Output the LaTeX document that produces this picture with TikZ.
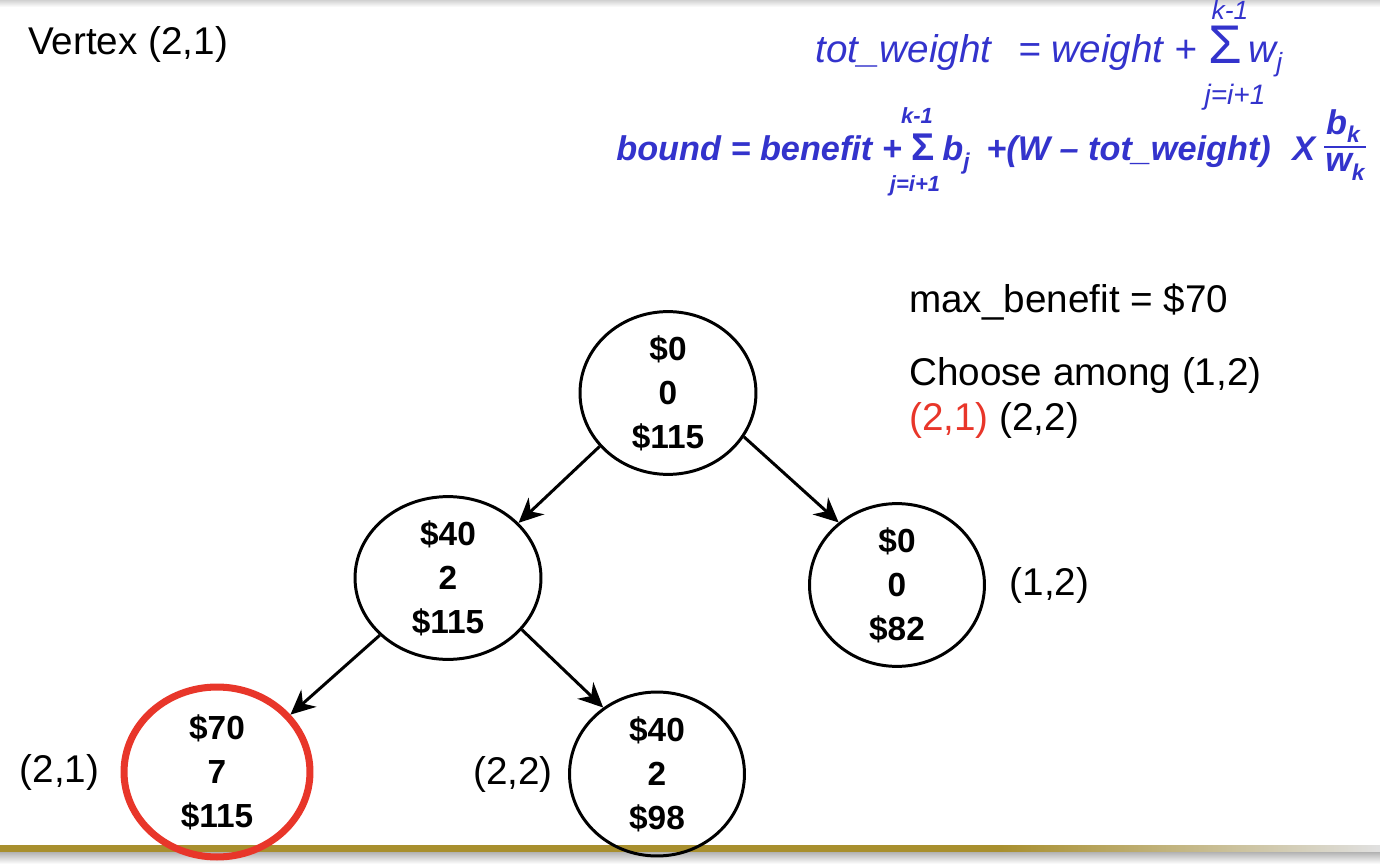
\documentclass[tikz,border=0pt]{standalone}
\usepackage{fontspec}
\setmainfont{Liberation Sans}
\usetikzlibrary{arrows.meta,positioning,shapes.geometric}
\definecolor{formula}{HTML}{3333CC}
\definecolor{pick}{HTML}{E8362A}
\definecolor{gold}{HTML}{A88F2E}
\newcommand\lowidx[2][13]{\raisebox{-5pt}{\fontsize{#1}{#1}\selectfont #2}}

\begin{document}
\begin{tikzpicture}[x=0.02cm,y=-0.02cm,
  vert/.style={ellipse,draw,line width=1.7pt,inner sep=0pt,align=center,font=\fontsize{19}{25}\selectfont\bfseries},
  lbl/.style={font=\fontsize{22}{25.5}\selectfont},
  link/.style={-{Stealth[length=14pt,width=13pt]},line width=1.7pt},
  fa/.style={formula,inner sep=0pt,font=\fontsize{22}{24}\selectfont\itshape},
  fb/.style={formula,inner sep=0pt,font=\fontsize{19.5}{22}\selectfont\bfseries\itshape}]
  \useasboundingbox (0,0) rectangle (1380,868);
  % slide frame
  \shade[top color=black!18,bottom color=white] (0,0) rectangle (1380,7);
  \fill[gold] (0,845) rectangle (1000,852);
  \shade[left color=gold,right color=black!12] (1000,845) rectangle (1380,852);
  \shade[top color=black!30,bottom color=white] (0,852) rectangle (1380,864);

  % formulas
  \node[fa,anchor=base west] (tw) at (815,63) {tot\_weight};
  \node[fa,anchor=base west] (eq1) at (1018,63) {= weight +};
  \node[fa,font=\fontsize{31}{31}\selectfont,anchor=base west] (s1) at (1208,64) {\smash{Σ}};
  \node[fa,font=\fontsize{15}{15}\selectfont\itshape] (k1) at (1230,10) {k-1};
  \node[fa,font=\fontsize{16}{16}\selectfont\itshape] (j1) at (1235,97) {j=i+1};
  \node[fa,anchor=base west] (wj) at (1248,63) {w\lowidx[15]{j}};
  \node[fb,anchor=base west] (bd) at (616,161) {bound = benefit +};
  \node[fb,font=\fontsize{22}{22}\selectfont\bfseries,anchor=base west] (s2) at (911,161) {Σ};
  \node[fb,font=\fontsize{12.5}{12.5}\selectfont\bfseries\itshape] (k2) at (917,116) {k-1};
  \node[fb,font=\fontsize{12.5}{12.5}\selectfont\bfseries\itshape] (j2) at (915,186) {j=i+1};
  \node[fb,anchor=base west] (bj) at (942,161) {b\lowidx{j}};
  \node[fb,anchor=base west] (pw) at (986,161) {+(W – tot\_weight)};
  \node[fb,anchor=base west] (xx) at (1292,161) {X};
  \node[fb] (bk) at (1343,126) {b\lowidx{k}};
  \node[fb] (wk) at (1345,167) {w\lowidx{k}};
  \draw[formula,line width=1.4pt] (1324,147) -- (1366,147);

  % text
  \node[lbl,anchor=west] (title) at (22,45) {Vertex (2,1)};
  \node[lbl,anchor=west] (maxb) at (903,302) {max\_benefit = \$70};
  \node[lbl,anchor=west,align=left] (choose) at (903,398) {Choose among (1,2)\\\textcolor{pick}{(2,1)} (2,2)};

  % tree
  \node[vert,minimum width=3.52cm,minimum height=3.12cm] (root) at (668,393) {\$0\\0\\\$115};
  \node[vert,minimum width=3.72cm,minimum height=3.08cm] (a) at (448,578) {\$40\\2\\\$115};
  \node[vert,minimum width=3.5cm,minimum height=3.0cm] (b) at (897,585) {\$0\\0\\\$82};
  \node[vert,draw=pick,line width=4pt,minimum width=3.72cm,minimum height=3.4cm] (aa) at (217,772) {\$70\\7\\\$115};
  \node[vert,minimum width=3.5cm,minimum height=3.28cm] (ab) at (657,774) {\$40\\2\\\$98};
  \node[lbl,right=0.35cm of b] (lb) {(1,2)};
  \node[lbl,left=0.3cm of aa] (laa) {(2,1)};
  \node[lbl,left=0.18cm of ab] (lab) {(2,2)};

  \draw[link] (root.218) -- (a.38);
  \draw[link] (root.-30) -- (b.133);
  \draw[link] (a.220) -- (aa.38);
  \draw[link] (a.-35) -- (ab.129);
\end{tikzpicture}
\end{document}
